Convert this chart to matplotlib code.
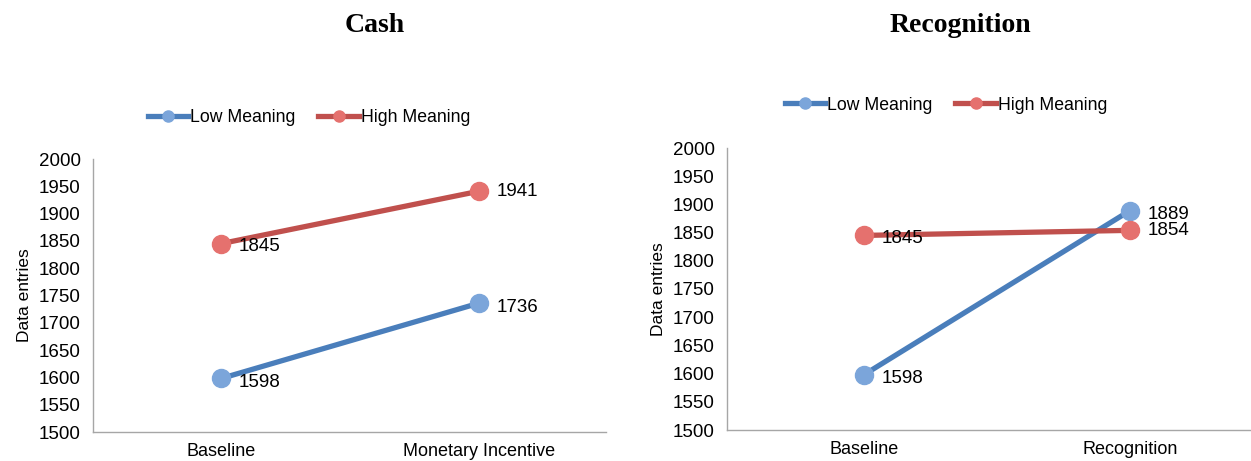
import matplotlib.pyplot as plt
from matplotlib.lines import Line2D

plt.rcParams['font.family'] = ['Liberation Sans', 'DejaVu Sans']

# values per panel
cash_categories = ['Baseline', 'Monetary Incentive']
cash_low = [1598, 1736]
cash_high = [1845, 1941]

recog_categories = ['Baseline', 'Recognition']
recog_low = [1598, 1889]
recog_high = [1845, 1854]

yticks = list(range(1500, 2001, 50))

BLUE_LINE = '#4A7EBB'
BLUE_MARK = '#7BA5DA'
RED_LINE = '#C0504D'
RED_MARK = '#E5716E'
AXIS_GRAY = '#A6A6A6'

W, H = 1251, 461
fig = plt.figure(figsize=(W / 100, H / 100), dpi=100)


def px_axes(x0, x1, ytop, ybot):
    return fig.add_axes([x0 / W, 1 - ybot / H, (x1 - x0) / W, (ybot - ytop) / H])


def draw_panel(ax, cats, low, high, xlim, title, title_x, legend_xy):
    x = [0, 1]
    ax.plot(x, low, color=BLUE_LINE, lw=3.8, marker='o', ms=13,
            mfc=BLUE_MARK, mec=BLUE_MARK, solid_capstyle='butt', zorder=3)
    ax.plot(x, high, color=RED_LINE, lw=3.8, marker='o', ms=13,
            mfc=RED_MARK, mec=RED_MARK, solid_capstyle='butt', zorder=3)
    for xi, v in zip(x, low):
        ax.annotate(str(v), (xi, v), xytext=(13, -3), textcoords='offset points',
                    fontsize=13.5, va='center', ha='left', zorder=4)
    for xi, v in zip(x, high):
        ax.annotate(str(v), (xi, v), xytext=(13, -2 if xi == 0 else 0),
                    textcoords='offset points',
                    fontsize=13.5, va='center', ha='left', zorder=4)
    ax.set_xlim(*xlim)
    ax.set_ylim(1500, 2000)
    ax.set_yticks(yticks)
    ax.set_xticks(x)
    ax.set_xticklabels(cats, fontsize=13)
    ax.tick_params(axis='y', labelsize=13.5, length=0, pad=9)
    ax.tick_params(axis='x', length=0, pad=8)
    ax.set_ylabel('Data entries', fontsize=12.5, labelpad=5)
    for s in ['top', 'right']:
        ax.spines[s].set_visible(False)
    for s in ['left', 'bottom']:
        ax.spines[s].set_color(AXIS_GRAY)
        ax.spines[s].set_linewidth(1)
    ax.set_facecolor('none')

    handles = [
        Line2D([], [], color=BLUE_LINE, lw=3.8, marker='o', ms=8, mfc=BLUE_MARK, mec=BLUE_MARK),
        Line2D([], [], color=RED_LINE, lw=3.8, marker='o', ms=8, mfc=RED_MARK, mec=RED_MARK),
    ]
    fig.legend(handles, ['Low Meaning', 'High Meaning'], loc='center',
               bbox_to_anchor=(legend_xy[0] / W, 1 - legend_xy[1] / H),
               ncol=2, frameon=False, fontsize=12.7, handlelength=2.3,
               handletextpad=0.1, columnspacing=1.3)
    fig.text(title_x / W, 1 - 26 / H, title, family='Liberation Serif',
             fontweight='bold', fontsize=20, ha='center', va='center')


ax1 = px_axes(93, 606, 159, 432)
draw_panel(ax1, cash_categories, cash_low, cash_high, (-0.496, 1.492),
           'Cash', 375, (309, 118))

ax2 = px_axes(727, 1251, 148, 430)
draw_panel(ax2, recog_categories, recog_low, recog_high, (-0.515, 1.455),
           'Recognition', 960, (946, 105))

fig.savefig('out.png', dpi=100)
